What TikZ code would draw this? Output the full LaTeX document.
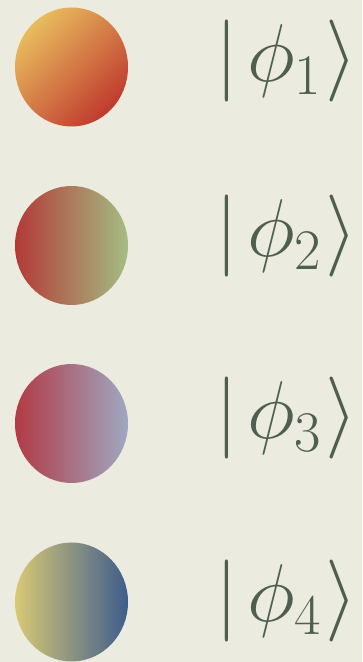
\RequirePackage{fix-cm}
\documentclass[tikz,border=0pt]{standalone}
\usetikzlibrary{shadings,shapes.geometric}
\definecolor{bgc}{HTML}{ECEBE0}
\definecolor{txt}{HTML}{4E5E50}
\definecolor{aA}{HTML}{E8BC5E}
\definecolor{aB}{HTML}{C03A2E}
\definecolor{bA}{HTML}{B33A38}
\definecolor{bB}{HTML}{A4BD82}
\definecolor{cA}{HTML}{B23A45}
\definecolor{cB}{HTML}{9FA8C2}
\definecolor{dA}{HTML}{D9C975}
\definecolor{dB}{HTML}{3E5D8C}
\newcommand{\myket}[1]{$|\mkern2mu\phi_{#1}\mkern1mu\rangle$}
\tikzset{
  x=1pt,y=1pt,
  ball/.style={ellipse, inner sep=0pt, minimum width=113pt, minimum height=119pt},
  ket/.style={anchor=base west, inner sep=0pt, text=txt, font=\fontsize{82}{96}\selectfont}
}
\begin{document}
\begin{tikzpicture}
\fill[bgc] (0,0) rectangle (362,662);
\useasboundingbox (0,0) rectangle (362,662);
% circles (centres at y_px 67, 245.5, 423.5, 602)
\node[ball, top color=aA, bottom color=aB, shading angle=45] (b1) at (71.5,595) {};
\node[ball, left color=bA, right color=bB] (b2) at (71.5,416.5) {};
\node[ball, left color=cA, right color=cB] (b3) at (71.5,238.5) {};
\node[ball, left color=dA, right color=dB] (b4) at (71.5,60) {};
\node[ket] (k1) at (215,580) {\myket{1}};
\node[ket] (k2) at (215,405) {\myket{2}};
\node[ket] (k3) at (215,223) {\myket{3}};
\node[ket] (k4) at (215,40) {\myket{4}};
\end{tikzpicture}
\end{document}
